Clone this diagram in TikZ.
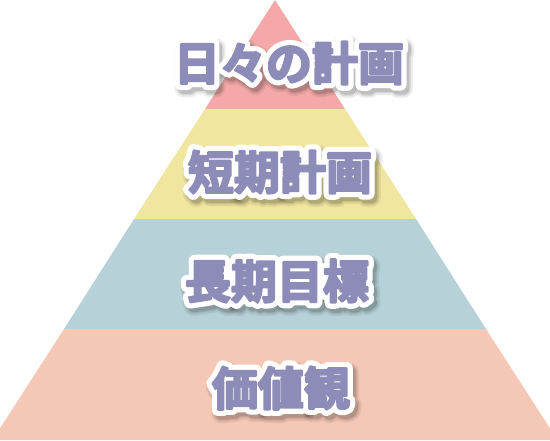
\documentclass[tikz,border=0pt]{standalone}
\usepackage{fontspec}
\newfontfamily\jpfont{Noto Sans CJK JP Bold}
\usetikzlibrary{calc}
\definecolor{layerA}{HTML}{F4A9A8}
\definecolor{layerB}{HTML}{F1E6A0}
\definecolor{layerC}{HTML}{B6D1D8}
\definecolor{layerD}{HTML}{F5C7B5}
\definecolor{labelink}{HTML}{8D8CB8}
\newcommand{\strk}[3]{\special{pdf:literal direct q 2 Tr #1 w 1 j 1 J #2 RG #2 rg}#3\special{pdf:literal direct Q}}
\tikzset{
  lblfont/.style={font=\jpfont\fontsize{46}{46}\selectfont, inner sep=0pt},
}
\newcommand{\haloText}[3]{%
  \node[lblfont, opacity=0.07] at ($(#2)+(3,4)$) {\strk{19}{0 0 0}{#3}};
  \node[lblfont, opacity=0.09] at ($(#2)+(3,4)$) {\strk{15}{0 0 0}{#3}};
  \node[lblfont, opacity=0.12] at ($(#2)+(3,4)$) {\strk{12}{0 0 0}{#3}};
  \node[lblfont] at (#2) {\strk{12.5}{1 1 1}{#3}};
  \node[lblfont, text=labelink] (#1) at (#2) {\strk{2.2}{0.553 0.549 0.722}{#3}};
}
\begin{document}
\begin{tikzpicture}[x=1pt,y=-1pt]
\useasboundingbox (0,0) rectangle (550,440);
\begin{scope}
\clip (0,0) rectangle (550,440);
\fill[layerA] (275,0) -- (345,109) -- (205,109) -- cycle;
\fill[layerB] (205,109) -- (345,109) -- (416,219) -- (134,219) -- cycle;
\fill[layerC] (134,219) -- (416,219) -- (486,329) -- (64,329) -- cycle;
\fill[layerD] (64,329) -- (486,329) -- (557.5,440) -- (-7.5,440) -- cycle;
\end{scope}
\coordinate (p1) at (289,63);
\coordinate (p2) at (280,172);
\coordinate (p3) at (277,281);
\coordinate (p4) at (281,388);
\haloText{t1}{p1}{日々の計画}
\haloText{t2}{p2}{短期計画}
\haloText{t3}{p3}{長期目標}
\haloText{t4}{p4}{価値観}
\end{tikzpicture}
\end{document}
